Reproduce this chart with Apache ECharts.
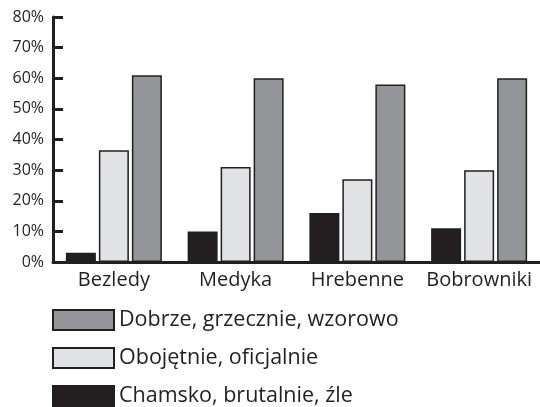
<!DOCTYPE html>
<html><head><meta charset="utf-8">
<script src="https://cdn.jsdelivr.net/npm/echarts@6/dist/echarts.min.js"></script>
<style>html,body{margin:0;padding:0;background:#fff}#c{width:540px;height:407px}</style>
</head><body><div id="c"></div>
<script>
const categories = ['Bezledy', 'Medyka', 'Hrebenne', 'Bobrowniki'];
const chamsko = [3, 10, 16, 11];
const obojetnie = [36.5, 31, 27, 30];
const dobrze = [61, 60, 58, 60];
const seriesNames = ['Chamsko, brutalnie, źle', 'Obojętnie, oficjalnie', 'Dobrze, grzecznie, wzorowo'];
const legendOrder = ['Dobrze, grzecznie, wzorowo', 'Obojętnie, oficjalnie', 'Chamsko, brutalnie, źle'];
const yTicks = {min: 0, max: 80, interval: 10};

const font = 'Open Sans';
const border = {borderColor: '#231f20', borderWidth: 1.5};
const chart = echarts.init(document.getElementById('c'));
chart.setOption({
  animation: false,
  textStyle: {fontFamily: font},
  grid: {left: 53, right: -1, top: 17, bottom: 145, containLabel: false},
  legend: {
    data: legendOrder, orient: 'vertical', left: 52, top: 309, height: 140, padding: 0,
    itemWidth: 61, itemHeight: 20, itemGap: 16,
    textStyle: {fontSize: 21.5, lineHeight: 21, color: '#231f20', fontFamily: font},
    icon: 'rect'
  },
  xAxis: {
    type: 'category', data: categories,
    axisLine: {lineStyle: {color: '#231f20', width: 3}},
    axisTick: {inside: true, length: 5, lineStyle: {width: 2, color: '#231f20'}},
    axisLabel: {interval: 0, fontSize: 20, color: '#231f20', margin: 8, fontFamily: font}
  },
  yAxis: {
    type: 'value', min: yTicks.min, max: yTicks.max, interval: yTicks.interval,
    splitLine: {show: false},
    axisLine: {show: true, lineStyle: {color: '#231f20', width: 3}},
    axisTick: {show: true, inside: true, length: 10, lineStyle: {width: 3, color: '#231f20'}},
    axisLabel: {formatter: '{value}%', fontSize: 16, color: '#231f20', margin: 9, fontFamily: font}
  },
  series: [
    {name: seriesNames[0], type: 'bar', data: chamsko, barWidth: 30, barGap: '10%', itemStyle: Object.assign({color: '#231f20'}, border)},
    {name: seriesNames[1], type: 'bar', data: obojetnie, barWidth: 30, barGap: '10%', itemStyle: Object.assign({color: '#e1e2e3'}, border)},
    {name: seriesNames[2], type: 'bar', data: dobrze, barWidth: 30, barGap: '10%', itemStyle: Object.assign({color: '#939598'}, border)}
  ]
});
</script></body></html>
